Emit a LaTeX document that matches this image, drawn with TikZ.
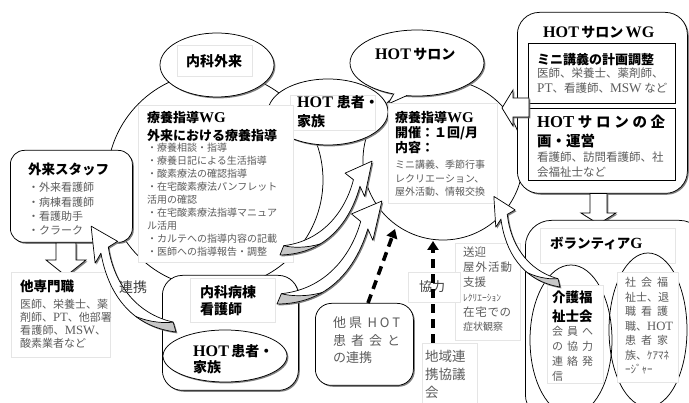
\documentclass[tikz,border=0pt]{standalone}
\usepackage{fontspec}
\setmainfont{Noto Sans CJK JP}
\newfontfamily\lt[Scale=1.15]{Liberation Serif}
\usetikzlibrary{shapes.geometric,shadows,arrows.meta}
\definecolor{tg}{gray}{0.36}
\newcommand\fsz[2]{\fontsize{#1}{#2}\selectfont}
\makeatletter
\def\spx#1{\spx@a#1\@nil}
\def\spx@a#1#2\@nil{{#1}\ifx\relax#2\relax\else\hfill\spx@a#2\@nil\fi}
\makeatother
\newcommand\jst[2]{\makebox[#1][l]{\spx{#2}}}
\newcommand\ml[1]{\vtop{\let\\\cr\halign{##\hfil\cr#1\crcr}}}
\def\cpath{(0,0) .. controls (0.25,0.24) and (0.55,0.2) .. (0.80,0.06) -- (0.77,0.14) -- (1,-0.01) -- (0.79,-0.09) -- (0.80,-0.01) .. controls (0.58,0.12) and (0.3,0.15) .. (0.07,-0.03) -- cycle}
\def\cgray{(0.276,0.157) .. controls (0.17,0.1) and (0.1,0.02) .. (0.07,-0.03) -- (-0.3,-0.3) -- (-0.3,0.5) -- (0.4,0.5) -- cycle}
\newcommand\carrow[5]{%
 \begin{scope}[shift={(#1+1.4,#2+1.4)}, rotate=#3, scale=#4, yscale=#5]
  \fill[black!50] \cpath;
 \end{scope}
 \begin{scope}[shift={(#1,#2)}, rotate=#3, scale=#4, yscale=#5]
  \fill[white] \cpath;
  \begin{scope}\clip \cpath; \fill[black!22] \cgray; \end{scope}
  \draw[line width=0.7pt, line join=round] \cpath;
  \draw[line width=0.7pt] (0.276,0.157) .. controls (0.17,0.1) and (0.1,0.02) .. (0.07,-0.03);
 \end{scope}}
\tikzset{
 shp/.style={draw=black, line width=0.75pt, fill=white},
 sh/.style={drop shadow={shadow xshift=1.4pt, shadow yshift=-1.4pt, fill=black!55, opacity=0.9}},
 tbx/.style={draw=black!10, line width=0.4pt, fill=white, anchor=north west, inner sep=0},
 txt/.style={anchor=base west, inner sep=0},
 hd/.style={txt},
 bd/.style={txt, text=tg},
 blk/.style={shp, sh, line join=miter},
 dsh/.style={line width=3.6pt, dash pattern=on 9pt off 6pt, -{Triangle[length=9pt,width=11pt]}},
}
\begin{document}
\begin{tikzpicture}[x=1pt,y=-1pt]
\useasboundingbox (0,0) rectangle (689,403);
% big circles
\node[shp, circle, minimum size=216pt] (bigL) at (215,180) {};
\node[shp, circle, minimum size=160pt] (salonC) at (443,160) {};
% top ellipses
\node[shp, sh, ellipse, minimum width=114pt, minimum height=64pt] (naika) at (217,65) {};
\node[tbx, minimum width=75pt, minimum height=31pt] (naikaBox) at (177,45) {};
\node[font=\bfseries\fsz{14}{16}, inner sep=0] (naikaT) at (214,61) {内科外来};
\node[shp, sh, ellipse, minimum width=120pt, minimum height=66pt] (hotpt) at (328,112) {};
\node[tbx, minimum width=85pt, minimum height=35pt] (hotptBox) at (290,95) {};
\node[hd, font=\bfseries\fsz{14}{19}] (hotptT) at (297,108) {\ml{{\lt HOT}\hspace{4pt}患者・\\家族}};
\node[shp, sh, ellipse, minimum width=134pt, minimum height=66pt] (salonE) at (417,63) {};
\fill[white] (393.5,92.5) -- (388,104) -- (407.5,95) -- cycle;
\draw[line width=0.75pt, line join=round] (394,93.5) -- (388,104) -- (407,95.5);
\node[hd, font=\bfseries\fsz{14}{16}] (salonT) at (375,60) {{\lt HOT}\,サロン};
% left WG text
\node[tbx, minimum width=155pt, minimum height=157pt] (wgLbox) at (138,105) {};
\node[hd, font=\bfseries\fsz{13}{18}] (wgLh) at (147,123) {\ml{療養指導{\lt WG}\\外来における療養指導}};
\node[bd, font=\fsz{10}{12.9}] (wgLb) at (147,152) {\ml{・療養相談・指導\\・療養日記による生活指導\\・酸素療法の確認指導\\・在宅酸素療法パンフレット\\活用の確認\\・在宅酸素療法指導マニュア\\ル活用\\・カルテへの指導内容の記載\\・医師への指導報告・調整}};
% salon text
\node[tbx, minimum width=109pt, minimum height=100pt] (salonBox) at (388,103) {};
\node[hd, font=\bfseries\fsz{13}{15}] (salonH) at (395,123) {\ml{療養指導{\lt WG}\\開催：１回/月\\内容：}};
\node[bd, font=\fsz{10}{13.5}] (salonB) at (395,169) {\ml{ミニ講義、季節行事\\レクリエーション、\\屋外活動、情報交換}};
% outpatient staff
\node[shp, sh, rounded corners=14pt, anchor=north west, minimum width=122pt, minimum height=92pt] (gairai) at (10,150) {};
\node[hd, font=\bfseries\fsz{13.5}{17}] (gairaiH) at (28,175) {外来スタッフ};
\node[bd, font=\fsz{11}{14.3}] (gairaiB) at (28,192) {\ml{・外来看護師\\・病棟看護師\\・看護助手\\・クラーク}};
\draw[blk] (56,243) -- (76,243) -- (76,260) -- (86,260) -- (66,276) -- (46,260) -- (56,260) -- cycle;
\node[tbx, minimum width=99pt, minimum height=85pt] (tasenBox) at (11,272) {};
\node[hd, font=\bfseries\fsz{13.5}{17}] (tasenH) at (20,292) {他専門職};
\node[bd, font=\fsz{11}{12.8}] (tasenB) at (20,309) {\ml{医師、栄養士、薬\\剤師、{\lt PT}、他部署\\\jst{86pt}{看護師、{\lt MSW}、}\\酸素業者など}};
% ward nurse box
\node[shp, sh, rounded corners=20pt, anchor=north west, minimum width=136pt, minimum height=115pt] (byoto) at (162,275) {};
\node[tbx, minimum width=85pt, minimum height=44pt] (byotoBox) at (190,278) {};
\node[hd, font=\bfseries\fsz{14}{17}] (byotoT) at (200,298) {\ml{内科病棟\\看護師}};
\node[shp, sh, ellipse, minimum width=124pt, minimum height=52pt] (hotpt2) at (225,356) {};
\node[hd, font=\bfseries\fsz{14}{16}] (hotpt2T) at (193,357) {\ml{{\lt HOT}\,患者・\\家族}};
% WG box
\node[shp, sh, rounded corners=22pt, anchor=north west, minimum width=170pt, minimum height=181pt] (wg) at (517,12) {};
\node[hd, font=\bfseries\fsz{14}{16}] (wgT) at (543,38) {{\lt HOT}\,サロン\,{\lt WG}};
\node[draw, line width=0.6pt, fill=white, anchor=north west, minimum width=147pt, minimum height=60pt] (wg1) at (528,43) {};
\node[hd, font=\bfseries\fsz{13}{15}] (wg1H) at (537,65) {ミニ講義の計画調整};
\node[bd, font=\fsz{11.5}{15}] (wg1B) at (537,78) {\ml{医師、栄養士、薬剤師、\\{\lt PT}、看護師、{\lt MSW} など}};
\node[draw, line width=0.6pt, fill=white, anchor=north west, minimum width=147pt, minimum height=72pt] (wg2) at (528,108) {};
\node[hd, font=\bfseries\fsz{14.5}{19}] (wg2H) at (537,127.5) {\ml{\jst{128pt}{{\lt HOT}サロンの企}\\画・運営}};
\node[bd, font=\fsz{11.5}{15}] (wg2B) at (537,162) {\ml{看護師、訪問看護師、社\\会福祉士など}};
\draw[blk] (529,98) -- (513,98) -- (513,90) -- (502,108) -- (513,126) -- (513,117) -- (529,117) -- cycle;
\draw[blk] (590,193.5) -- (607,193.5) -- (607,213) -- (616,213) -- (598.5,224) -- (581,213) -- (590,213) -- cycle;
% volunteer box
\node[shp, sh, rounded corners=26pt, anchor=north west, minimum width=180pt, minimum height=200pt] (vol) at (525,220) {};
\node[tbx, minimum width=135pt, minimum height=35pt] (volBox) at (540,228) {};
\node[hd, font=\bfseries\fsz{13.5}{16}] (volT) at (550,249) {ボランティア{\lt G}};
\node[draw, line width=0.75pt, ellipse, minimum width=82pt, minimum height=150pt] (kaigo) at (571,340) {};
\node[draw, line width=0.75pt, ellipse, minimum width=78pt, minimum height=154pt] (ell2) at (648,330) {};
\node[tbx, minimum width=56pt, minimum height=98pt] (kaigoBox) at (547,285) {};
\node[tbx, minimum width=61pt, minimum height=110pt] (ell2Box) at (617,272) {};
\node[hd, font=\bfseries\fsz{13.5}{19}] (kaigoH) at (552,303) {\ml{介護福\\祉士会}};
\node[bd, font=\fsz{11}{14.7}] (kaigoB) at (552,336) {\ml{\jst{41pt}{会員へ}\\\jst{41pt}{の協力}\\\jst{41pt}{連絡発}\\信}};
\node[bd, font=\fsz{11}{14.5}] (ell2T) at (625,287) {\ml{\jst{43pt}{社会福}\\\jst{43pt}{祉士、退}\\\jst{43pt}{職看護}\\職、{\lt HOT}\\\jst{43pt}{患者家}\\族、ｹｱﾏﾈ\\ｰｼﾞｬｰ}};
% support text
\node[tbx, minimum width=65pt, minimum height=97pt] (sogeiBox) at (455,243) {};
\node[bd, font=\fsz{11.5}{14.8}] (sogeiT) at (463,257) {\ml{送迎\\\jst{49pt}{屋外活動}\\支援\\{\fsz{9.5}{10}ﾚｸﾘｴｰｼｮﾝ}\\\jst{48pt}{在宅での}\\{\fsz{10}{10}症状観察}}};
\node[tbx, minimum width=52pt, minimum height=30pt] (kyoBox) at (408,272) {};
\node[text=black!75, font=\fsz{13}{15}, inner sep=0] (kyoryoku) at (432,287) {協力};
% other prefecture
\node[shp, sh, rounded corners=16pt, anchor=north west, minimum width=98pt, minimum height=82pt] (taken) at (315,303) {};
\node[bd, font=\fsz{13}{17.5}] (takenT) at (333,328) {\ml{\jst{67pt}{他県{\lt HOT}}\\\jst{67pt}{患者会と}\\の連携}};
\node[tbx, minimum width=55pt, minimum height=70pt] (chikiBox) at (422,343) {};
\node[bd, font=\fsz{13.5}{18}] (chikiT) at (425,362) {\ml{地域連\\携協議\\会}};
% dashed arrows
\coordinate (d1s) at (368,303);
\coordinate (d1e) at (395,229);
\coordinate (d2s) at (433,343);
\coordinate (d2e) at (433,241);
\draw[dsh] (d1s) -- (d1e);
\draw[dsh] (d2s) -- (d2e);
% curved arrows
\carrow{280}{255}{45}{131.5}{1}
\carrow{277}{304}{43.9}{147}{1}
\carrow{176}{332}{129.3}{135.7}{-1}
\carrow{560}{287}{126.7}{112.2}{-1}
\node[text=black!75, font=\fsz{14}{16}, inner sep=0] (renkei) at (133,287) {連携};
\end{tikzpicture}
\end{document}
